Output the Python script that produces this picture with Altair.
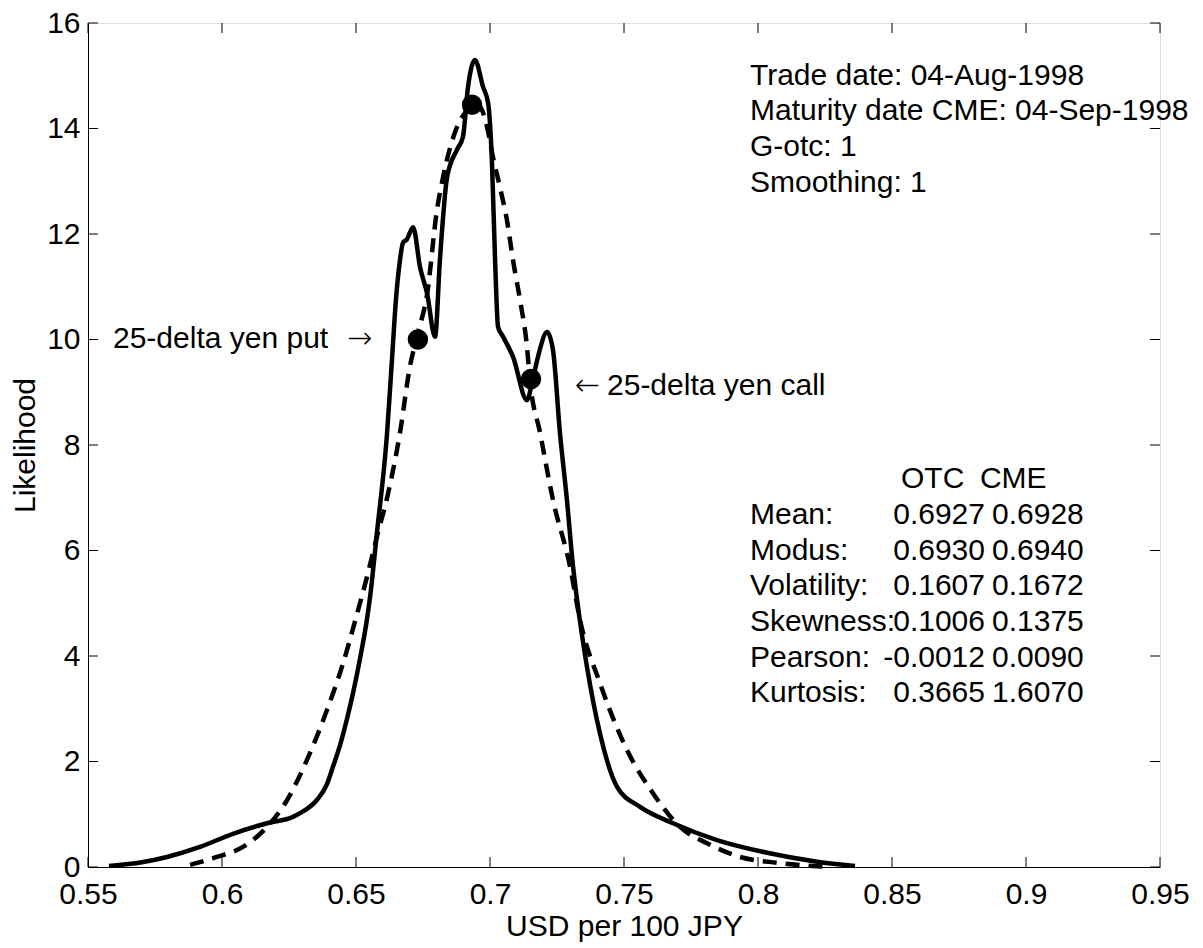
import altair as alt
import pandas as pd

# OTC (solid) density
otc_x = [0.5578, 0.5701, 0.5795, 0.5918, 0.6041, 0.6168, 0.6265, 0.6291, 0.6354, 0.6390,
         0.6414, 0.6440, 0.6466, 0.6489, 0.6515, 0.6541, 0.6552, 0.6578, 0.6616, 0.6634,
         0.6649, 0.6664, 0.6675, 0.6690, 0.6713, 0.6739, 0.6765, 0.6795, 0.6813, 0.6840,
         0.6877, 0.6899, 0.6918, 0.6944, 0.6974, 0.6993, 0.7007, 0.7019, 0.7030, 0.7049,
         0.7086, 0.7138, 0.7157, 0.7179, 0.7213, 0.7235, 0.7261, 0.7287, 0.7310, 0.7325,
         0.7362, 0.7410, 0.7474, 0.7560, 0.7683, 0.7847, 0.8034, 0.8221, 0.8362]
otc_y = [0.02, 0.09, 0.19, 0.38, 0.63, 0.83, 0.95, 1.02, 1.27, 1.55,
         1.90, 2.30, 2.80, 3.30, 3.95, 4.70, 5.10, 6.33, 8.23, 9.60,
         10.75, 11.50, 11.83, 11.90, 12.13, 11.37, 10.88, 10.05, 11.50, 13.08,
         13.60, 13.84, 14.79, 15.30, 14.79, 14.48, 13.40, 11.50, 10.24, 10.05,
         9.67, 8.85, 9.18, 9.67, 10.14, 9.80, 8.23, 6.96, 5.69, 5.06,
         3.79, 2.54, 1.52, 1.14, 0.83, 0.51, 0.27, 0.10, 0.02]

# CME (dashed) density
cme_x = [0.5881, 0.5981, 0.6078, 0.6168, 0.6243, 0.6317, 0.6392, 0.6451, 0.6504, 0.6541,
         0.6580, 0.6616, 0.6664, 0.6701, 0.6731, 0.6765, 0.6802, 0.6825, 0.6877, 0.6914,
         0.6933, 0.6963, 0.6989, 0.7011, 0.7037, 0.7063, 0.7086, 0.7112, 0.7138, 0.7149,
         0.7187, 0.7235, 0.7299, 0.7336, 0.7410, 0.7511, 0.7608, 0.7709, 0.7810, 0.7933,
         0.8071, 0.8205, 0.8269]
cme_y = [0.04, 0.19, 0.38, 0.76, 1.27, 2.03, 2.98, 3.85, 4.80, 5.50,
         6.30, 7.00, 8.23, 9.48, 10.12, 10.85, 12.45, 13.08, 14.03, 14.35,
         14.48, 14.41, 14.03, 13.46, 12.89, 12.27, 11.50, 10.75, 9.86, 9.23,
         8.23, 6.96, 5.69, 4.68, 3.49, 2.22, 1.40, 0.76, 0.45, 0.19,
         0.08, 0.02, 0.00]

# marked points on CME curve
dot_x = [0.6731, 0.6933, 0.7153]
dot_y = [10.0, 14.45, 9.25]

x_ticks = [0.55, 0.6, 0.65, 0.7, 0.75, 0.8, 0.85, 0.9, 0.95]
y_ticks = [0, 2, 4, 6, 8, 10, 12, 14, 16]

info_lines = ["Trade date: 04-Aug-1998", "Maturity date CME: 04-Sep-1998",
              "G-otc: 1", "Smoothing: 1"]
info_y = [14.825, 14.152, 13.479, 12.796]

stat_labels = ["Mean:", "Modus:", "Volatility:", "Skewness:", "Pearson:", "Kurtosis:"]
stat_otc = ["0.6927", "0.6930", "0.1607", "0.1006", "-0.0012", "0.3665"]
stat_cme = ["0.6928", "0.6940", "0.1672", "0.1375", "0.0090", "1.6070"]
stat_y = [6.502, 5.820, 5.147, 4.474, 3.791, 3.128]
header_y = 7.185

put_text = "25-delta yen put"
call_text = "25-delta yen call"
arrows = ["\u2192", "\u2190"]

FONT = "Liberation Sans"
FS = 30
XD = [0.55, 0.95]
YD = [0, 16]
xs = alt.Scale(domain=XD, nice=False, zero=False)
ys = alt.Scale(domain=YD, nice=False)

otc_df = pd.DataFrame({"x": otc_x, "y": otc_y})
cme_df = pd.DataFrame({"x": cme_x, "y": cme_y})
dot_df = pd.DataFrame({"x": dot_x, "y": dot_y})

x_axis = alt.Axis(values=x_ticks, format="~g", ticks=False, tickSize=0, grid=False,
                  labelFontSize=FS, labelFont=FONT, labelColor="black", labelPadding=12,
                  title="USD per 100 JPY", titleFontSize=FS, titleFont=FONT,
                  titleFontWeight="normal", titleColor="black", titlePadding=2,
                  domainColor="black", labelFlush=False)
y_axis = alt.Axis(values=y_ticks, ticks=False, tickSize=0, grid=False,
                  labelFontSize=FS, labelFont=FONT, labelColor="black", labelPadding=8,
                  title="Likelihood", titleFontSize=FS, titleFont=FONT,
                  titleFontWeight="normal", titleColor="black", titlePadding=6,
                  domainColor="black", labelFlush=False)

otc_line = alt.Chart(otc_df).mark_line(color="black", strokeWidth=4.5,
                                       interpolate="monotone").encode(
    x=alt.X("x:Q", scale=xs, axis=x_axis),
    y=alt.Y("y:Q", scale=ys, axis=y_axis),
)
cme_line = alt.Chart(cme_df).mark_line(color="black", strokeWidth=4.5,
                                       interpolate="monotone",
                                       strokeDash=[14, 9]).encode(
    x=alt.X("x:Q", scale=xs), y=alt.Y("y:Q", scale=ys))
dots = alt.Chart(dot_df).mark_circle(color="black", opacity=1, size=420).encode(
    x=alt.X("x:Q", scale=xs), y=alt.Y("y:Q", scale=ys))

# inward ticks on all four sides
tlx = 10 / 2680
tly = 10 / 52.75
xt_df = pd.DataFrame({"x": x_ticks})
yt_df = pd.DataFrame({"y": y_ticks})
tick_bottom = alt.Chart(xt_df).mark_rule(color="black", strokeWidth=1).encode(
    x=alt.X("x:Q", scale=xs), y=alt.datum(YD[0]), y2=alt.datum(YD[0] + tly))
tick_top = alt.Chart(xt_df).mark_rule(color="black", strokeWidth=1).encode(
    x=alt.X("x:Q", scale=xs), y=alt.datum(YD[1] - tly), y2=alt.datum(YD[1]))
tick_left = alt.Chart(yt_df).mark_rule(color="black", strokeWidth=1).encode(
    y=alt.Y("y:Q", scale=ys), x=alt.datum(XD[0]), x2=alt.datum(XD[0] + tlx))
tick_right = alt.Chart(yt_df).mark_rule(color="black", strokeWidth=1).encode(
    y=alt.Y("y:Q", scale=ys), x=alt.datum(XD[1] - tlx), x2=alt.datum(XD[1]))

def text_layer(df, align, font=FONT, weight="normal"):
    return alt.Chart(df).mark_text(align=align, baseline="alphabetic", font=font,
                                   fontSize=FS, fontWeight=weight, color="black").encode(
        x=alt.X("x:Q", scale=xs), y=alt.Y("y:Q", scale=ys), text="t:N")

info_df = pd.DataFrame({"x": [0.79701] * 4, "y": info_y, "t": info_lines})
lab_df = pd.DataFrame({"x": [0.79701] * 6 + [0.85336], "y": stat_y + [header_y],
                       "t": stat_labels + ["OTC"]})
otc_df_t = pd.DataFrame({"x": [0.88470] * 6, "y": stat_y, "t": stat_otc})
cme_df_t = pd.DataFrame({"x": [0.88731] * 6 + [0.8828], "y": stat_y + [header_y],
                         "t": stat_cme + ["CME"]})
ann_df = pd.DataFrame({"x": [0.55933, 0.74366], "y": [9.839, 8.948],
                       "t": [put_text, call_text]})
arr_df = pd.DataFrame({"x": [0.64664, 0.73172], "y": [9.839, 8.948], "t": arrows})

chart = alt.layer(
    tick_bottom, tick_top, tick_left, tick_right,
    otc_line, cme_line, dots,
    text_layer(info_df, "left"), text_layer(lab_df, "left"),
    text_layer(otc_df_t, "right"), text_layer(cme_df_t, "left"),
    text_layer(ann_df, "left"),
    text_layer(arr_df, "left", font="DejaVu Sans", weight=200),
).properties(
    width=1072, height=844,
    padding={"left": 80, "top": 15, "right": 35, "bottom": 75},
    autosize="none",
).configure_view(stroke="black", strokeWidth=1).configure(background="white")

chart.save("out.html", embed_options={"renderer": "svg", "actions": False})
